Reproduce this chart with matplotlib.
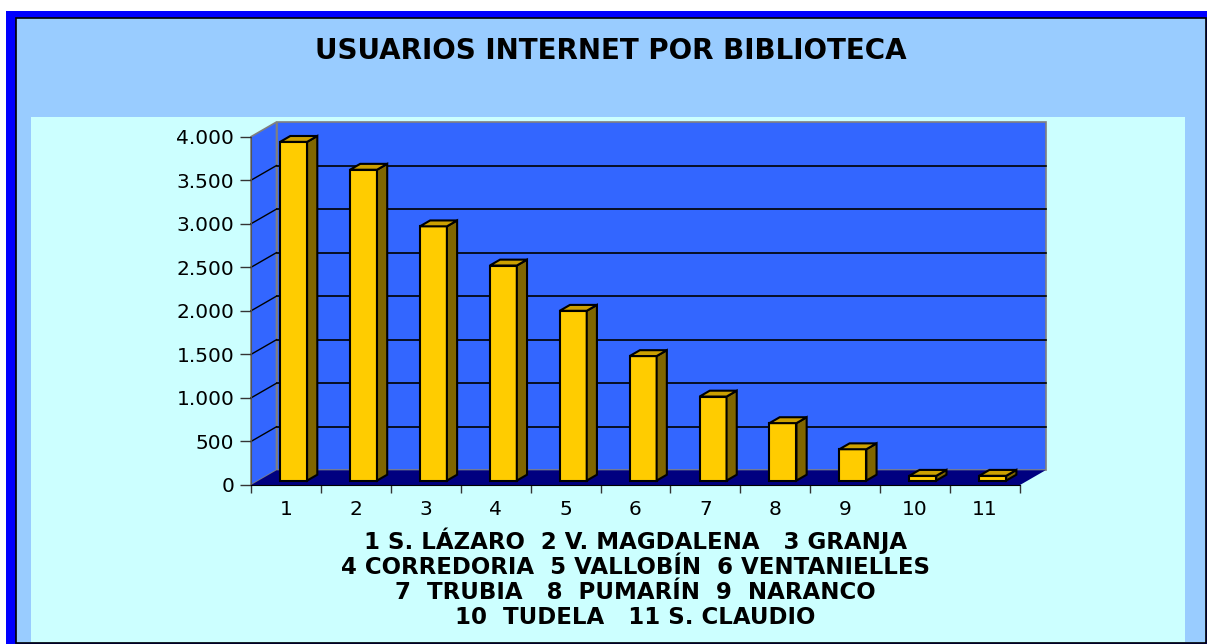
import matplotlib
matplotlib.use('Agg')
import matplotlib.pyplot as plt
from matplotlib.patches import Rectangle, Polygon

# datos
categorias = ['1', '2', '3', '4', '5', '6', '7', '8', '9', '10', '11']
usuarios = [3890, 3570, 2920, 2470, 1950, 1430, 965, 660, 360, 55, 55]
y_ticks = [0, 500, 1000, 1500, 2000, 2500, 3000, 3500, 4000]
y_labels = ['0', '500', '1.000', '1.500', '2.000', '2.500', '3.000', '3.500', '4.000']
titulo = 'USUARIOS INTERNET POR BIBLIOTECA'
leyenda = ['1 S. LÁZARO  2 V. MAGDALENA   3 GRANJA',
           '4 CORREDORIA  5 VALLOBÍN  6 VENTANIELLES',
           '7  TRUBIA   8  PUMARÍN  9  NARANCO',
           '10  TUDELA   11 S. CLAUDIO']

W, H = 1207, 644
plt.rcParams['font.family'] = ['DejaVu Sans']
fig = plt.figure(figsize=(W / 100, H / 100), dpi=100)
fig.patch.set_facecolor('white')


def rect_px(x0, y0, x1, y1, **kw):
    # rectangulo en pixeles (origen arriba a la izquierda)
    r = Rectangle((x0 / W, 1 - y1 / H), (x1 - x0) / W, (y1 - y0) / H,
                  transform=fig.transFigure, zorder=-10, **kw)
    fig.add_artist(r)


# marcos de fondo
rect_px(6, 11, 1210, 650, facecolor='#0000FF', edgecolor='none')
rect_px(15.5, 17.5, 1206, 643, facecolor='#99CCFF', edgecolor='black', lw=1.2)
rect_px(31, 117, 1185, 642, facecolor='#CCFFFF', edgecolor='none')

fig.text(611 / W, 1 - 51 / H, titulo, ha='center', va='center',
         fontsize=20, fontweight='bold', color='black')

# ejes (plano frontal)
ax_l, ax_r, ax_b, ax_t = 251, 1020, 485, 136.7
ax = fig.add_axes([ax_l / W, 1 - ax_b / H, (ax_r - ax_l) / W, (ax_b - ax_t) / H])
ax.patch.set_visible(False)
n = len(categorias)
ymax = y_ticks[-1]
ax.set_xlim(0, n)
ax.set_ylim(0, ymax)

# profundidad 3D en unidades de datos
DX = 25.5 / ((ax_r - ax_l) / n)
DY = 14.7 / ((ax_b - ax_t) / ymax)

wall = '#3366FF'
# pared del fondo, pared izquierda y suelo
ax.add_patch(Polygon([(DX, DY), (n + DX, DY), (n + DX, ymax + DY), (DX, ymax + DY)],
                     closed=True, facecolor=wall, edgecolor='#808080', lw=1.2,
                     clip_on=False, zorder=0.5))
ax.add_patch(Polygon([(0, 0), (DX, DY), (DX, ymax + DY), (0, ymax)],
                     closed=True, facecolor=wall, edgecolor='#808080', lw=1.2,
                     clip_on=False, zorder=0.5))
ax.add_patch(Polygon([(0, 0), (n, 0), (n + DX, DY), (DX, DY)],
                     closed=True, facecolor='#000080', edgecolor='none',
                     clip_on=False, zorder=0.6))

# lineas de division
for v in y_ticks[1:-1]:
    ax.plot([DX, n + DX], [v + DY, v + DY], color='black', lw=1.2,
            clip_on=False, zorder=0.7)
    ax.plot([0, DX], [v, v + DY], color='black', lw=1.0,
            clip_on=False, zorder=0.7)

# barras 3D
f0, f1 = 0.3, 0.7
w = 0.386
x = [i + 0.5 for i in range(n)]
xf = [c + f0 * DX for c in x]
base = f0 * DY
ddx = (f1 - f0) * DX
ddy = (f1 - f0) * DY
ax.bar(xf, usuarios, width=w, bottom=base, color='#FFCC00',
       edgecolor='black', lw=1.5, zorder=3)
for c, v in zip(xf, usuarios):
    xl, xr = c - w / 2, c + w / 2
    top = base + v
    ax.add_patch(Polygon([(xr, base), (xr + ddx, base + ddy), (xr + ddx, top + ddy), (xr, top)],
                         closed=True, facecolor='#806600', edgecolor='black',
                         lw=1.5, zorder=3, clip_on=False))
    ax.add_patch(Polygon([(xl, top), (xr, top), (xr + ddx, top + ddy), (xl + ddx, top + ddy)],
                         closed=True, facecolor='#CCA000', edgecolor='black',
                         lw=1.5, zorder=3, clip_on=False))

# ejes y marcas
for s in ['top', 'right']:
    ax.spines[s].set_visible(False)
ax.spines['left'].set_color('#555555')
ax.spines['bottom'].set_color('black')
ax.spines['left'].set_zorder(1)
ax.set_yticks(y_ticks)
ax.set_yticklabels(y_labels)
ax.tick_params(axis='y', direction='out', length=8, width=1, color='#333333',
               pad=4, labelsize=14.5)
ax.set_xticks(range(n + 1))
ax.set_xticklabels([])
ax.set_xticks(x, minor=True)
ax.set_xticklabels(categorias, minor=True)
ax.tick_params(axis='x', which='major', direction='out', length=6, width=1,
               color='#333333')
ax.tick_params(axis='x', which='minor', length=0, pad=11, labelsize=14.5)

ax.set_xlabel('\n'.join(leyenda), fontsize=16.5, fontweight='bold',
              linespacing=1.12, va='top')
ax.xaxis.set_label_coords(0.5, -(527 - ax_b) / (ax_b - ax_t))

plt.savefig('out.png', dpi=100)
